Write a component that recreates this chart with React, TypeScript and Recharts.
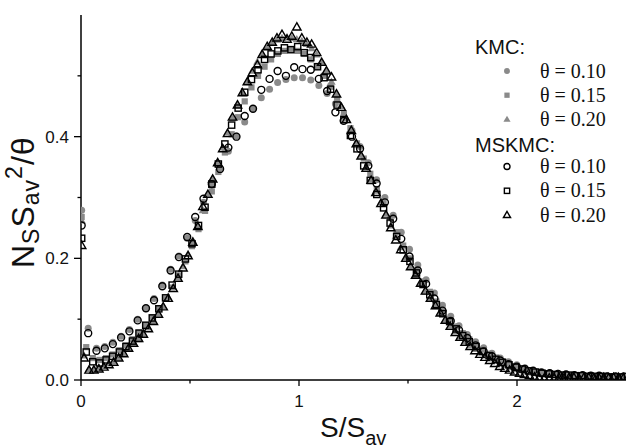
import React from 'react';
import { ScatterChart, Scatter, XAxis, YAxis } from 'recharts';

// ---------- data ----------
const legendGroups = ['KMC:', 'MSKMC:'];
const thetaLabels = ['θ = 0.10', 'θ = 0.15', 'θ = 0.20'];
const xTicks = [0, 0.5, 1, 1.5, 2];
const xMajor = [0, 1, 2];
const yTicks = [0, 0.1, 0.2, 0.3, 0.4, 0.5];
const yMajor = [0, 0.2, 0.4];

const xTheta10 = [0.003, 0.033, 0.071, 0.109, 0.146, 0.184, 0.222, 0.260, 0.298, 0.335, 0.373, 0.411, 0.449, 0.487, 0.524, 0.562, 0.600, 0.638, 0.676, 0.713, 0.751, 0.789, 0.827, 0.865, 0.902, 0.940, 0.978, 1.016, 1.054, 1.091, 1.129, 1.167, 1.205, 1.243, 1.280, 1.318, 1.356, 1.394, 1.432, 1.469, 1.507, 1.545, 1.583, 1.621, 1.658, 1.696, 1.734, 1.772, 1.810, 1.847, 1.885, 1.923, 1.961, 1.999, 2.036, 2.074, 2.112, 2.150, 2.188, 2.225, 2.263, 2.301, 2.339, 2.377, 2.414, 2.452, 2.490];
const kmcTheta10 = [0.279, 0.085, 0.052, 0.055, 0.062, 0.072, 0.083, 0.100, 0.117, 0.134, 0.156, 0.182, 0.204, 0.233, 0.262, 0.292, 0.320, 0.348, 0.376, 0.401, 0.424, 0.446, 0.464, 0.478, 0.489, 0.494, 0.497, 0.497, 0.493, 0.484, 0.471, 0.454, 0.433, 0.410, 0.384, 0.357, 0.329, 0.300, 0.271, 0.243, 0.215, 0.189, 0.165, 0.143, 0.123, 0.105, 0.089, 0.075, 0.063, 0.053, 0.044, 0.036, 0.030, 0.025, 0.020, 0.017, 0.014, 0.012, 0.011, 0.010, 0.009, 0.008, 0.008, 0.007, 0.007, 0.006, 0.006];
const mskmcTheta10 = [0.254, 0.077, 0.048, 0.052, 0.059, 0.070, 0.080, 0.098, 0.118, 0.131, 0.154, 0.180, 0.202, 0.235, 0.268, 0.298, 0.322, 0.347, 0.382, 0.400, 0.434, 0.446, 0.477, 0.495, 0.508, 0.500, 0.514, 0.511, 0.510, 0.495, 0.475, 0.440, 0.426, 0.400, 0.380, 0.352, 0.323, 0.292, 0.265, 0.232, 0.203, 0.180, 0.158, 0.134, 0.114, 0.097, 0.082, 0.069, 0.057, 0.047, 0.039, 0.032, 0.026, 0.022, 0.018, 0.015, 0.012, 0.011, 0.010, 0.009, 0.008, 0.008, 0.007, 0.007, 0.006, 0.006, 0.006];

const xTheta15 = [0.003, 0.024, 0.054, 0.085, 0.115, 0.145, 0.176, 0.206, 0.236, 0.266, 0.297, 0.327, 0.357, 0.388, 0.418, 0.448, 0.479, 0.509, 0.539, 0.569, 0.600, 0.630, 0.660, 0.691, 0.721, 0.751, 0.782, 0.812, 0.842, 0.872, 0.903, 0.933, 0.963, 0.994, 1.024, 1.054, 1.085, 1.115, 1.145, 1.175, 1.206, 1.236, 1.266, 1.297, 1.327, 1.357, 1.388, 1.418, 1.448, 1.478, 1.509, 1.539, 1.569, 1.600, 1.630, 1.660, 1.691, 1.721, 1.751, 1.781, 1.812, 1.842, 1.872, 1.903, 1.933, 1.963, 1.994, 2.024, 2.054, 2.084, 2.115, 2.145, 2.175, 2.206, 2.236, 2.266, 2.297, 2.327, 2.357, 2.387, 2.418, 2.448, 2.478];
const kmcTheta15 = [0.268, 0.054, 0.036, 0.033, 0.036, 0.042, 0.049, 0.057, 0.067, 0.078, 0.090, 0.103, 0.118, 0.134, 0.152, 0.172, 0.195, 0.220, 0.248, 0.278, 0.310, 0.342, 0.374, 0.404, 0.432, 0.458, 0.481, 0.500, 0.515, 0.527, 0.536, 0.541, 0.543, 0.541, 0.536, 0.527, 0.515, 0.500, 0.482, 0.461, 0.438, 0.414, 0.389, 0.364, 0.339, 0.314, 0.290, 0.266, 0.243, 0.221, 0.200, 0.180, 0.162, 0.145, 0.129, 0.114, 0.100, 0.088, 0.077, 0.067, 0.058, 0.050, 0.043, 0.037, 0.031, 0.027, 0.023, 0.019, 0.016, 0.014, 0.012, 0.011, 0.010, 0.009, 0.008, 0.008, 0.007, 0.007, 0.006, 0.006, 0.006, 0.005, 0.005];
const mskmcTheta15 = [0.233, 0.046, 0.030, 0.028, 0.033, 0.039, 0.046, 0.055, 0.064, 0.077, 0.090, 0.102, 0.117, 0.135, 0.156, 0.174, 0.199, 0.224, 0.254, 0.284, 0.322, 0.355, 0.388, 0.419, 0.447, 0.473, 0.494, 0.510, 0.527, 0.536, 0.541, 0.546, 0.543, 0.548, 0.538, 0.530, 0.515, 0.497, 0.478, 0.452, 0.428, 0.402, 0.380, 0.352, 0.328, 0.305, 0.283, 0.258, 0.236, 0.214, 0.195, 0.176, 0.157, 0.140, 0.124, 0.109, 0.096, 0.084, 0.073, 0.063, 0.055, 0.047, 0.040, 0.034, 0.029, 0.025, 0.021, 0.018, 0.015, 0.013, 0.011, 0.010, 0.009, 0.008, 0.008, 0.007, 0.007, 0.006, 0.006, 0.006, 0.005, 0.005, 0.005];

const xTheta20 = [0.003, 0.014, 0.037, 0.059, 0.082, 0.105, 0.128, 0.150, 0.173, 0.196, 0.218, 0.241, 0.264, 0.286, 0.309, 0.332, 0.355, 0.377, 0.400, 0.423, 0.445, 0.468, 0.491, 0.513, 0.536, 0.559, 0.582, 0.604, 0.627, 0.650, 0.672, 0.695, 0.718, 0.740, 0.763, 0.786, 0.809, 0.831, 0.854, 0.877, 0.899, 0.922, 0.945, 0.967, 0.990, 1.013, 1.036, 1.058, 1.081, 1.104, 1.126, 1.149, 1.172, 1.194, 1.217, 1.240, 1.263, 1.285, 1.308, 1.331, 1.353, 1.376, 1.399, 1.421, 1.444, 1.467, 1.490, 1.512, 1.535, 1.558, 1.580, 1.603, 1.626, 1.648, 1.671, 1.694, 1.717, 1.739, 1.762, 1.785, 1.807, 1.830, 1.853, 1.875, 1.898, 1.921, 1.944, 1.966, 1.989, 2.012, 2.034, 2.057, 2.080, 2.102, 2.125, 2.148, 2.171, 2.193, 2.216, 2.239, 2.261, 2.284, 2.307, 2.329, 2.352, 2.375, 2.398, 2.420, 2.443, 2.466, 2.488];
const kmcTheta20 = [0.262, 0.040, 0.018, 0.018, 0.020, 0.023, 0.027, 0.031, 0.037, 0.044, 0.051, 0.059, 0.067, 0.076, 0.086, 0.097, 0.109, 0.121, 0.136, 0.152, 0.169, 0.187, 0.207, 0.229, 0.253, 0.279, 0.304, 0.331, 0.357, 0.382, 0.407, 0.430, 0.452, 0.472, 0.491, 0.508, 0.523, 0.536, 0.546, 0.554, 0.559, 0.562, 0.563, 0.562, 0.560, 0.557, 0.552, 0.545, 0.535, 0.522, 0.507, 0.490, 0.470, 0.450, 0.430, 0.410, 0.390, 0.370, 0.350, 0.330, 0.311, 0.292, 0.273, 0.254, 0.236, 0.218, 0.202, 0.187, 0.172, 0.158, 0.145, 0.133, 0.121, 0.110, 0.099, 0.089, 0.080, 0.072, 0.064, 0.057, 0.051, 0.045, 0.040, 0.035, 0.031, 0.027, 0.024, 0.021, 0.018, 0.016, 0.014, 0.012, 0.011, 0.010, 0.009, 0.008, 0.008, 0.007, 0.007, 0.006, 0.006, 0.006, 0.005, 0.005, 0.005, 0.005, 0.005, 0.005, 0.004, 0.004, 0.004];
const mskmcTheta20 = [0.221, 0.036, 0.016, 0.016, 0.018, 0.021, 0.025, 0.029, 0.036, 0.043, 0.052, 0.060, 0.068, 0.075, 0.084, 0.096, 0.108, 0.120, 0.134, 0.150, 0.167, 0.184, 0.204, 0.226, 0.252, 0.285, 0.305, 0.330, 0.357, 0.380, 0.405, 0.432, 0.452, 0.472, 0.490, 0.505, 0.518, 0.535, 0.548, 0.555, 0.562, 0.568, 0.560, 0.565, 0.580, 0.562, 0.555, 0.552, 0.538, 0.522, 0.508, 0.498, 0.470, 0.448, 0.428, 0.410, 0.388, 0.368, 0.348, 0.328, 0.308, 0.290, 0.271, 0.250, 0.230, 0.214, 0.200, 0.186, 0.172, 0.159, 0.146, 0.134, 0.122, 0.110, 0.098, 0.088, 0.078, 0.070, 0.062, 0.055, 0.048, 0.042, 0.037, 0.032, 0.027, 0.022, 0.019, 0.016, 0.013, 0.011, 0.009, 0.007, 0.005, 0.004, 0.003, 0.003, 0.003, 0.004, 0.003, 0.004, 0.004, 0.003, 0.004, 0.004, 0.003, 0.004, 0.004, 0.003, 0.004, 0.004, 0.003];

// ---------- helpers ----------
const zip = (xs: number[], ys: number[]) => {
  const n = Math.min(xs.length, ys.length);
  const out: { x: number; y: number }[] = [];
  for (let i = 0; i < n; i++) out.push({ x: xs[i], y: ys[i] });
  return out;
};

const GRAY = '#8a8a8a';
const SANS = '"Liberation Sans", Arial, Helvetica, sans-serif';
const SERIF = '"Liberation Serif", "Times New Roman", serif';

type Kind = 'circle' | 'square' | 'triangle';

const Mark = ({ kind, cx, cy, filled, s = 1 }: { kind: Kind; cx: number; cy: number; filled: boolean; s?: number }) => {
  const fill = filled ? GRAY : 'none';
  const stroke = filled ? 'none' : '#000';
  const sw = 1.4;
  if (kind === 'circle') return <circle cx={cx} cy={cy} r={3.5 * s} fill={fill} stroke={stroke} strokeWidth={sw} />;
  if (kind === 'square') {
    const h = 3.1 * s;
    return <rect x={cx - h} y={cy - h} width={2 * h} height={2 * h} fill={fill} stroke={stroke} strokeWidth={sw} />;
  }
  const w = 4.2 * s;
  const pts = `${cx},${cy - 4.4 * s} ${cx - w},${cy + 2.9 * s} ${cx + w},${cy + 2.9 * s}`;
  return <polygon points={pts} fill={fill} stroke={stroke} strokeWidth={sw} strokeLinejoin="miter" />;
};

const shapeOf = (kind: Kind, filled: boolean) => (p: any) =>
  p && typeof p.cx === 'number' ? <Mark kind={kind} cx={p.cx} cy={p.cy} filled={filled} /> : <g />;

const BottomTick = (p: any) => {
  const v = p.payload.value;
  const major = xMajor.includes(v);
  return (
    <g>
      <line x1={p.x} x2={p.x} y1={p.y} y2={p.y + (major ? 6 : 3.5)} stroke="#000" strokeWidth={1.3} />
      {major && (
        <text x={p.x} y={p.y + 27} textAnchor="middle" fontSize={17} fontFamily={SANS} fill="#111">
          {String(v)}
        </text>
      )}
    </g>
  );
};

const TopTick = (p: any) => {
  const v = p.payload.value;
  const major = xMajor.includes(v);
  return <line x1={p.x} x2={p.x} y1={p.y} y2={p.y - (major ? 5 : 3)} stroke="#000" strokeWidth={1.3} />;
};

const LeftTick = (p: any) => {
  const v = p.payload.value;
  const major = yMajor.some((m) => Math.abs(m - v) < 1e-9);
  return (
    <g>
      <line x1={p.x} x2={p.x - (major ? 7 : 3.5)} y1={p.y} y2={p.y} stroke="#000" strokeWidth={1.3} />
      {major && (
        <text x={p.x - 12} y={p.y + 6} textAnchor="end" fontSize={17} fontFamily={SANS} fill="#111">
          {v.toFixed(1)}
        </text>
      )}
    </g>
  );
};

const series = [
  { name: 'KMC 0.10', kind: 'circle' as Kind, filled: true, data: zip(xTheta10, kmcTheta10) },
  { name: 'KMC 0.15', kind: 'square' as Kind, filled: true, data: zip(xTheta15, kmcTheta15) },
  { name: 'KMC 0.20', kind: 'triangle' as Kind, filled: true, data: zip(xTheta20, kmcTheta20) },
  { name: 'MSKMC 0.10', kind: 'circle' as Kind, filled: false, data: zip(xTheta10, mskmcTheta10) },
  { name: 'MSKMC 0.15', kind: 'square' as Kind, filled: false, data: zip(xTheta15, mskmcTheta15) },
  { name: 'MSKMC 0.20', kind: 'triangle' as Kind, filled: false, data: zip(xTheta20, mskmcTheta20) },
];

const kinds: Kind[] = ['circle', 'square', 'triangle'];

export default function App() {
  const axisLine = { stroke: '#000', strokeWidth: 1.5 };
  return (
    <div style={{ position: 'absolute', left: 0, top: 0, width: 627, height: 448, background: '#fff' }}>
      <ScatterChart width={627} height={448} margin={{ top: 15, right: 1, bottom: 0, left: 0 }}>
        <XAxis
          xAxisId="b"
          dataKey="x"
          type="number"
          orientation="bottom"
          domain={[0, 2.5]}
          ticks={xTicks}
          height={68}
          tickSize={0}
          tickMargin={0}
          tickLine={false}
          axisLine={axisLine}
          tick={<BottomTick />}
          interval={0}
          allowDataOverflow
        />
        <XAxis
          xAxisId="t"
          dataKey="x"
          type="number"
          orientation="top"
          domain={[0, 2.5]}
          ticks={xTicks}
          height={0}
          tickSize={0}
          tickMargin={0}
          tickLine={false}
          axisLine={axisLine}
          tick={<TopTick />}
          interval={0}
          allowDataOverflow
        />
        <YAxis
          yAxisId="l"
          dataKey="y"
          type="number"
          orientation="left"
          domain={[0, 0.6]}
          ticks={yTicks}
          width={81}
          tickSize={0}
          tickMargin={0}
          tickLine={false}
          axisLine={axisLine}
          tick={<LeftTick />}
          interval={0}
          allowDataOverflow
        />
        <YAxis
          yAxisId="r"
          dataKey="y"
          type="number"
          orientation="right"
          domain={[0, 0.6]}
          ticks={yTicks}
          width={0}
          tick={false}
          tickLine={false}
          axisLine={axisLine}
          allowDataOverflow
        />
        {series.map((s) => (
          <Scatter
            key={s.name}
            name={s.name}
            data={s.data}
            xAxisId="b"
            yAxisId="l"
            isAnimationActive={false}
            shape={shapeOf(s.kind, s.filled)}
          />
        ))}
      </ScatterChart>
      <svg width={627} height={448} style={{ position: 'absolute', left: 0, top: 0, pointerEvents: 'none' }}>
        <text x={320} y={437} fontFamily={SANS} fontSize={28} fill="#111">
          S/S<tspan fontSize={20} dy={8}>av</tspan>
        </text>
        <text transform="rotate(-90)" x={-268} y={34} fontFamily={SANS} fontSize={32} letterSpacing={1} fill="#111">
          N<tspan fontSize={23} dy={5}>S</tspan>
          <tspan dy={-5}>S</tspan>
          <tspan fontSize={23} dy={5}>av</tspan>
          <tspan fontSize={23} dy={-17}>2</tspan>
          <tspan dy={12}>/θ</tspan>
        </text>
        <text x={475} y={54} fontFamily={SANS} fontSize={20} fill="#111">{legendGroups[0]}</text>
        <text x={475} y={151.5} fontFamily={SANS} fontSize={20} fill="#111">{legendGroups[1]}</text>
        {kinds.map((k, i) => (
          <g key={'k' + i}>
            <Mark kind={k} cx={507} cy={71 + i * 24.2} filled s={0.85} />
            <text x={540} y={78 + i * 24} fontFamily={SERIF} fontSize={20} fill="#111">{thetaLabels[i]}</text>
          </g>
        ))}
        {kinds.map((k, i) => (
          <g key={'m' + i}>
            <Mark kind={k} cx={507} cy={166.5 + i * 24.3} filled={false} s={0.85} />
            <text x={540} y={173 + i * 24.4} fontFamily={SERIF} fontSize={20} fill="#111">{thetaLabels[i]}</text>
          </g>
        ))}
      </svg>
    </div>
  );
}
